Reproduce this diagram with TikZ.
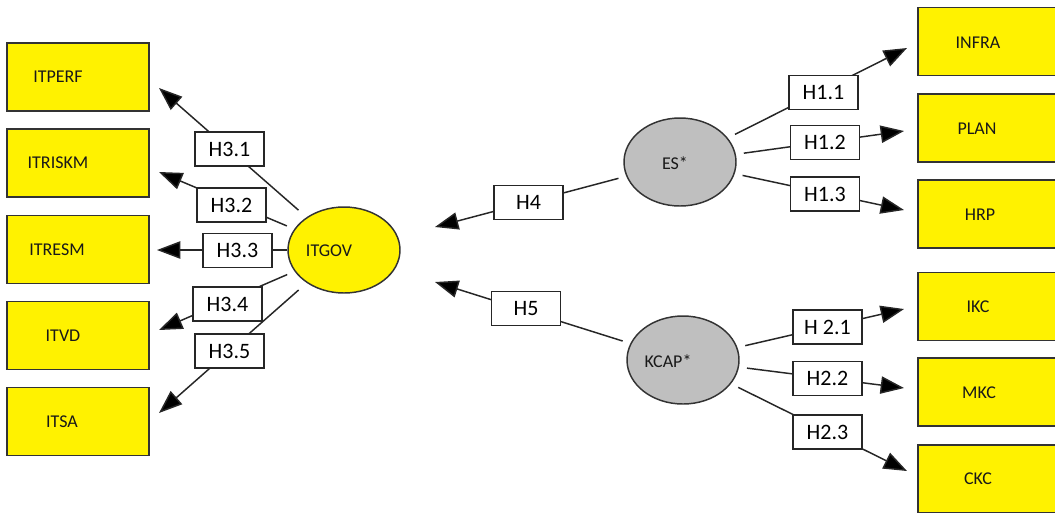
\documentclass[tikz,border=0pt]{standalone}
\usepackage{fontspec}
\setmainfont{Carlito}
\usetikzlibrary{arrows.meta,shapes.geometric}
\begin{document}
\begin{tikzpicture}[x=0.75pt,y=-0.75pt,
  indbox/.style={draw=black!80, line width=1.2pt, fill=yellow,
    minimum width=106.5pt, minimum height=51pt, inner sep=0pt},
  indtxt/.style={inner sep=0pt, text=black!90, font=\fontsize{13.5}{16}\selectfont},
  latent/.style={ellipse, draw=black!80, line width=1.1pt,
    minimum width=84pt, minimum height=65pt, inner sep=0pt},
  hyp/.style={draw=black!85, line width=1.1pt, fill=white,
    minimum width=51.75pt, minimum height=25.5pt, inner sep=0pt,
    font=\fontsize{16.5}{19}\selectfont},
  link/.style={line width=1.1pt, draw=black!85,
    -{Triangle[length=17.5pt,width=13pt,fill=black]}}]
\path[use as bounding box] (0,0) rectangle (1055,512);
\clip (0,0) rectangle (1055,512);
\fill[white] (0,0) rectangle (1055,512);

% indicator boxes, left column
\node[indbox] (itperf)  at (78,77)    {};
\node[indtxt] (itperf-t)  at (58,77)  {ITPERF};
\node[indbox] (itriskm) at (78,163)   {};
\node[indtxt] (itriskm-t) at (58,163) {ITRISKM};
\node[indbox] (itresm)  at (78,249.5) {};
\node[indtxt] (itresm-t)  at (57,250) {ITRESM};
\node[indbox] (itvd)    at (78,335.5) {};
\node[indtxt] (itvd-t)    at (63,336) {ITVD};
\node[indbox] (itsa)    at (78,421.5) {};
\node[indtxt] (itsa-t)    at (62,422) {ITSA};

% indicator boxes, right column
\node[indbox] (infra) at (989,41.5) {};
\node[indtxt] (infra-t) at (978,43) {INFRA};
\node[indbox] (plan)  at (989,128)  {};
\node[indtxt] (plan-t)  at (977,129) {PLAN};
\node[indbox] (hrp)   at (989,214)  {};
\node[indtxt] (hrp-t)   at (980,215) {HRP};
\node[indbox] (ikc)   at (989,306.5) {};
\node[indtxt] (ikc-t)   at (978,307) {IKC};
\node[indbox] (mkc)   at (989,392)  {};
\node[indtxt] (mkc-t)   at (979,393) {MKC};
\node[indbox] (ckc)   at (989,479)  {};
\node[indtxt] (ckc-t)   at (978,479) {CKC};

% latent constructs
\node[latent, fill=yellow, minimum height=64.5pt] (itgov) at (344,250) {};
\node[indtxt] (itgov-t) at (329,251) {ITGOV};
\node[latent, fill=black!25, minimum height=66pt] (es) at (680,162) {};
\node[indtxt] (es-t) at (675,163) {ES*};
\node[latent, fill=black!25, minimum height=66pt] (kcap) at (683,360) {};
\node[indtxt] (kcap-t) at (668,361) {KCAP*};

% arrow tips
\coordinate (t31) at (159,88);
\coordinate (t32) at (159,172);
\coordinate (t33) at (157,250);
\coordinate (t34) at (159,330);
\coordinate (t35) at (159,413);
\coordinate (t11) at (907,48);
\coordinate (t12) at (904,131);
\coordinate (t13) at (904,210);
\coordinate (t21) at (904,309);
\coordinate (t22) at (904,388);
\coordinate (t23) at (907,471);
\coordinate (t4)  at (435,227);
\coordinate (t5)  at (435,282);

% paths
\draw[link, shorten <=8pt] (itgov) -- (t31);
\draw[link, shorten <=6pt] (itgov) -- (t32);
\draw[link] (itgov) -- (t33);
\draw[link, shorten <=6pt] (itgov) -- (t34);
\draw[link, shorten <=8pt] (itgov) -- (t35);
\draw[link, shorten <=6pt] (es) -- (t11);
\draw[link, shorten <=6pt] (es) -- (t12);
\draw[link, shorten <=6pt] (es) -- (t13);
\draw[link, shorten <=6pt] (es) -- (t4);
\draw[link, shorten <=6pt] (kcap) -- (t21);
\draw[link, shorten <=6pt] (kcap) -- (t22);
\draw[link, shorten <=6pt] (kcap) -- (t23);
\draw[link, shorten <=6pt] (kcap) -- (t5);

% hypothesis labels
\node[hyp] (h31) at (229.5,149)   {H3.1};
\node[hyp] (h32) at (231.5,205)   {H3.2};
\node[hyp] (h33) at (237.5,250.5) {H3.3};
\node[hyp] (h34) at (227.5,304)   {H3.4};
\node[hyp] (h35) at (229.5,351)   {H3.5};
\node[hyp] (h11) at (823.5,92.5)  {H1.1};
\node[hyp] (h12) at (825,142.5)   {H1.2};
\node[hyp] (h13) at (825,194)     {H1.3};
\node[hyp] (h21) at (827.5,327)   {H 2.1};
\node[hyp] (h22) at (827.5,378.5) {H2.2};
\node[hyp] (h23) at (827.5,432)   {H2.3};
\node[hyp] (h4)  at (528.5,202.5) {H4};
\node[hyp] (h5)  at (526,308.5)   {H5};
\end{tikzpicture}
\end{document}
